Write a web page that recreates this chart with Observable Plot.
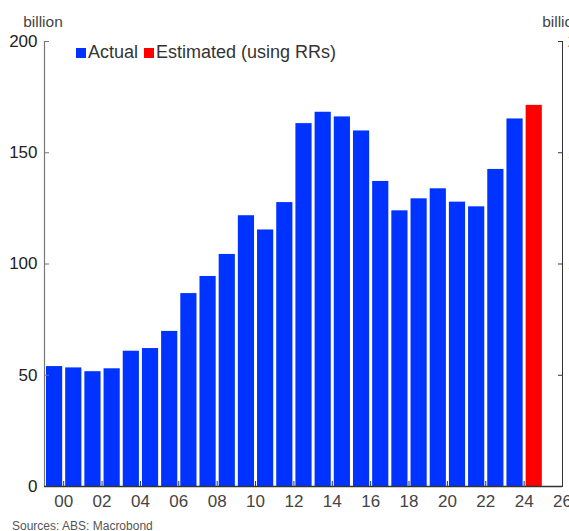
<!DOCTYPE html>
<html><head><meta charset="utf-8">
<script src="https://cdn.jsdelivr.net/npm/d3@7"></script>
<script src="https://cdn.jsdelivr.net/npm/@observablehq/plot@0.6"></script>
<style>
body{margin:0;background:#fff;font-family:"Liberation Sans",Arial,sans-serif}
#chart{position:relative;width:569px;height:531px;overflow:hidden;background:#fff}
#chart svg{position:absolute;left:0;top:0}
.ov{position:absolute;white-space:nowrap;line-height:1}
.unit{font-size:15.5px;color:#444;width:60px;text-align:center;top:14px}
#legend{left:76px;top:42.8px;font-size:18px;color:#333;display:flex;align-items:baseline}
#legend .sw{display:inline-block;width:9.5px;height:9.5px;margin-right:2.5px}
#legend .item{display:inline-flex;align-items:baseline;margin-right:6px}
#src{left:12px;top:520px;font-size:12px;color:#555}
</style>
</head><body><div id="chart"></div>
<script>
// Fiscal years (bar drawn over the year ending at the tick)
const years = [2000,2001,2002,2003,2004,2005,2006,2007,2008,2009,2010,2011,2012,2013,2014,2015,2016,2017,2018,2019,2020,2021,2022,2023,2024,2025];
const actual = [53.9,53.3,51.6,52.9,60.8,62.0,69.7,86.7,94.4,104.3,121.7,115.3,127.6,163.1,168.2,166.1,159.8,137.1,123.9,129.3,133.8,127.8,125.7,142.5,165.2];
const estimated = [171.3];
const seriesNames = ["Actual","Estimated (using RRs)"];
const seriesColors = ["#0033ff","#ff0000"];
const yTicks = [0,50,100,150,200];
const xTicks = [2000,2002,2004,2006,2008,2010,2012,2014,2016,2018,2020,2022,2024,2026];
const xTickLabels = ["00","02","04","06","08","10","12","14","16","18","20","22","24","26"];
const unitLabel = "billion";
const source = "Sources: ABS: Macrobond";

const data = years.map((y, i) => ({
  year: y,
  value: i < actual.length ? actual[i] : estimated[i - actual.length],
  series: i < actual.length ? seriesNames[0] : seriesNames[1]
}));

const chart = Plot.plot({
  width: 569, height: 531,
  marginLeft: 44, marginRight: 7, marginTop: 41, marginBottom: 45,
  style: {fontFamily: "Liberation Sans, Arial, sans-serif", fontSize: "17px", background: "transparent"},
  x: {domain: [1999, 2026]},
  y: {domain: [0, 200]},
  color: {domain: seriesNames, range: seriesColors},
  marks: [
    Plot.rectY(data, {x1: d => d.year - 1, x2: "year", y1: 0, y2: "value", fill: "series", insetLeft: 2, insetRight: 1}),
    Plot.ruleX([1999], {stroke: "#777", strokeWidth: 1.2}),
    Plot.ruleX([2026], {stroke: "#333", strokeWidth: 1}),
    Plot.axisY(yTicks, {anchor: "left", tickSize: -5, tickPadding: 12, label: null, stroke: "#777", fill: "#222"}),
    Plot.axisY(yTicks, {anchor: "right", tickSize: -5, tickPadding: 38.5, textAnchor: "end", label: null, stroke: "#333", fill: "#222"}),
    Plot.axisX(xTicks, {anchor: "bottom", tickSize: -5, tickPadding: 13, label: null, stroke: "#333", fill: "#444",
      tickFormat: d => xTickLabels[xTicks.indexOf(d)]}),
    Plot.ruleY([0], {stroke: "#333", strokeWidth: 1.3})
  ]
});

const root = document.getElementById("chart");
root.appendChild(chart);

const uL = document.createElement("div");
uL.className = "ov unit"; uL.style.left = "13px"; uL.textContent = unitLabel;
root.appendChild(uL);
const uR = document.createElement("div");
uR.className = "ov unit"; uR.style.left = "532px"; uR.textContent = unitLabel;
root.appendChild(uR);

const leg = document.createElement("div");
leg.id = "legend"; leg.className = "ov";
seriesNames.forEach((n, i) => {
  const it = document.createElement("span"); it.className = "item";
  const sw = document.createElement("span"); sw.className = "sw"; sw.style.background = seriesColors[i];
  const tx = document.createElement("span"); tx.textContent = n;
  it.appendChild(sw); it.appendChild(tx); leg.appendChild(it);
});
root.appendChild(leg);

const src = document.createElement("div");
src.id = "src"; src.className = "ov"; src.textContent = source;
root.appendChild(src);
</script>
</body></html>
